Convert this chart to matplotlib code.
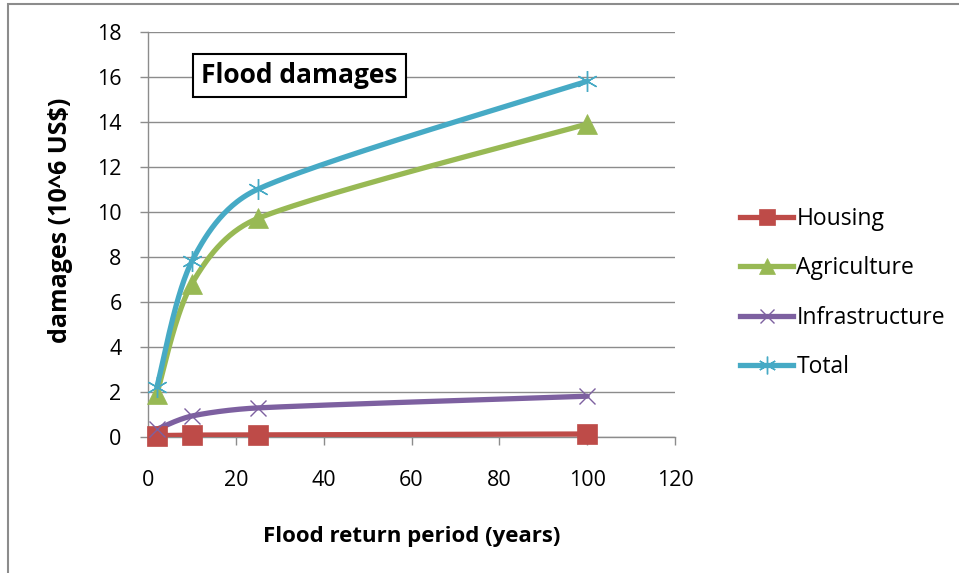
import numpy as np
import matplotlib
matplotlib.use("Agg")
import matplotlib.pyplot as plt
from matplotlib.patches import Rectangle

# Flood return periods (years) and damages (10^6 US$)
return_period = [2, 10, 25, 100]
housing = [0.05, 0.07, 0.08, 0.12]
agriculture = [1.9, 6.8, 9.7, 13.9]
infrastructure = [0.33, 0.92, 1.28, 1.8]
total = [2.2, 7.8, 11.0, 15.8]

series_names = ["Housing", "Agriculture", "Infrastructure", "Total"]
colors = ["#BE4B48", "#98B954", "#7D60A0", "#46AAC5"]
markers = ["s", "^", "x", (6, 2, 0)]
marker_sizes = [14, 14, 12, 15]

FONT = "Open Sans"

fig = plt.figure(figsize=(9.59, 5.73), dpi=100)
fig.patch.set_facecolor("white")
# outer chart frame
fig.add_artist(Rectangle((7.5 / 959, -0.05), 1.2, 1.05 - 3.5 / 573,
                         transform=fig.transFigure, fill=False,
                         edgecolor="#8C8C8C", linewidth=1.5))

W, H = 959, 573
ax = fig.add_axes([148 / W, 1 - 436.7 / H, (675 - 148) / W, (436.7 - 31.7) / H])
ax.set_xlim(0, 120)
ax.set_ylim(0, 18)
ax.set_xticks(np.arange(0, 121, 20))
ax.set_yticks(np.arange(0, 19, 2))
ax.grid(axis="y", color="#8C8C8C", linewidth=1)
ax.set_axisbelow(True)
for s in ["top", "right"]:
    ax.spines[s].set_visible(False)
for s in ["left", "bottom"]:
    ax.spines[s].set_color("#8C8C8C")
    ax.spines[s].set_linewidth(1)
ax.tick_params(axis="both", colors="#8C8C8C", length=6, width=1,
               labelcolor="black", labelsize=15.5)
for lab in ax.get_xticklabels() + ax.get_yticklabels():
    lab.set_family(FONT)
ax.tick_params(axis="y", pad=13)
ax.tick_params(axis="x", pad=18)


def smooth_curve(xs, ys, n=50, cap=0.35):
    """Smoothed line through the points: cubic Bezier segments with
    Catmull-Rom tangents, arms capped relative to the adjacent segment."""
    pts = ax.transData.transform(np.column_stack([xs, ys]))
    npts = len(pts)
    p = np.vstack([pts[0], pts, pts[-1]])
    d = np.linalg.norm(np.diff(pts, axis=0), axis=1)
    fwd = np.zeros_like(pts)
    bwd = np.zeros_like(pts)
    for i in range(npts):
        arm = (p[i + 2] - p[i]) / 6
        L = np.linalg.norm(arm)
        if i < npts - 1:
            a = arm if L <= cap * d[i] else arm * cap * d[i] / L
            fwd[i] = pts[i] + a
        if i > 0:
            a = arm if L <= cap * d[i - 1] else arm * cap * d[i - 1] / L
            bwd[i] = pts[i] - a
    out = []
    t = np.linspace(0, 1, n)[:, None]
    for i in range(npts - 1):
        p1, c1, c2, p2 = pts[i], fwd[i], bwd[i + 1], pts[i + 1]
        seg = ((1 - t) ** 3) * p1 + 3 * ((1 - t) ** 2) * t * c1 \
            + 3 * (1 - t) * t ** 2 * c2 + t ** 3 * p2
        out.append(seg if i == 0 else seg[1:])
    out = np.vstack(out)
    return ax.transData.inverted().transform(out).T


data = [housing, agriculture, infrastructure, total]
handles = []
for name, vals, c, m, ms in zip(series_names, data, colors, markers, marker_sizes):
    sx, sy = smooth_curve(return_period, vals)
    ax.plot(sx, sy, color=c, linewidth=3.8, solid_capstyle="round", zorder=3)
    thin = m in ("x",) or isinstance(m, tuple)
    ax.plot(return_period, vals, linestyle="none", marker=m, markersize=ms,
            color=c, markeredgecolor=c, markeredgewidth=1.0 if thin else 0.5,
            zorder=4, clip_on=False)
    h, = ax.plot([], [], color=c, linewidth=3.8, marker=m,
                 markersize=ms * 0.85, markeredgecolor=c,
                 markeredgewidth=1.0 if thin else 0.5, label=name)
    handles.append(h)

ax.set_xlabel("Flood return period (years)", fontsize=16, fontweight="bold",
              family=FONT, labelpad=25)
ax.set_ylabel("damages (10^6 US$)", fontsize=18, fontweight="bold",
              family=FONT)
ax.yaxis.set_label_coords(-0.142, 0.535)

ax.text(0.101, 0.891, "Flood damages", transform=ax.transAxes, fontsize=19,
        fontweight="bold", family=FONT, va="center", ha="left",
        bbox=dict(boxstyle="square,pad=0.3", facecolor="white",
                  edgecolor="black", linewidth=1.5))

fig.legend(handles=handles, loc="center left",
           bbox_to_anchor=(731 / W, 1 - 293 / H), frameon=False,
           prop={"family": FONT, "size": 16.5}, handlelength=2.3,
           handletextpad=0.15, labelspacing=1.1, borderaxespad=0)

fig.savefig("out.png", dpi=100, facecolor="white")
